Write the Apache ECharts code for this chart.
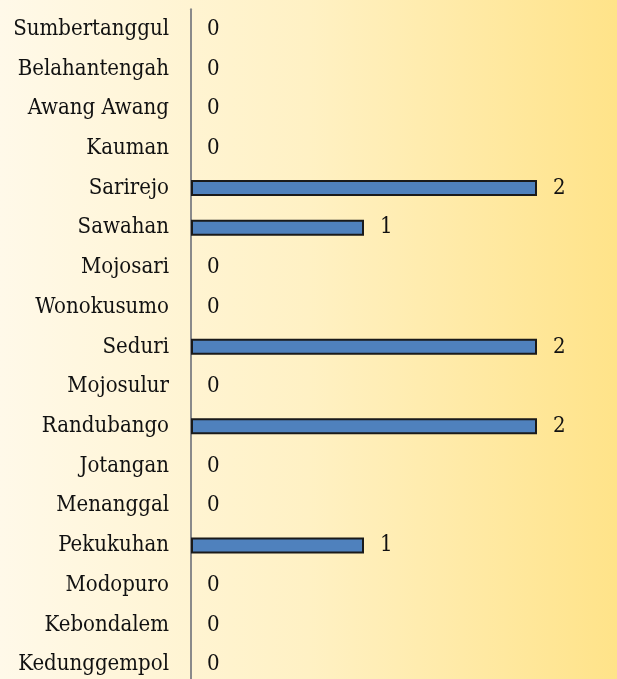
<!DOCTYPE html>
<html>
<head>
<meta charset="utf-8">
<script src="https://cdn.jsdelivr.net/npm/echarts@6/dist/echarts.min.js"></script>
<style>
  html, body { margin: 0; padding: 0; }
  #chart { width: 617px; height: 679px; }
</style>
</head>
<body>
<div id="chart"></div>
<script>
// data, top to bottom
const categories = [
  'Sumbertanggul', 'Belahantengah', 'Awang Awang', 'Kauman', 'Sarirejo',
  'Sawahan', 'Mojosari', 'Wonokusumo', 'Seduri', 'Mojosulur',
  'Randubango', 'Jotangan', 'Menanggal', 'Pekukuhan', 'Modopuro',
  'Kebondalem', 'Kedunggempol'
];
const values = [0, 0, 0, 0, 2, 1, 0, 0, 2, 0, 2, 0, 0, 1, 0, 0, 0];

const font = "'DejaVu Serif Condensed', serif";
const chart = echarts.init(document.getElementById('chart'), null, { renderer: 'canvas' });

// zero bars get no outline, otherwise the border leaves a stub on the axis
const barData = values.map((v) => (v === 0 ? { value: v, itemStyle: { borderWidth: 0 } } : v));

chart.setOption({
  animation: false,
  backgroundColor: new echarts.graphic.LinearGradient(0, 0, 1, 0, [
    { offset: 0, color: '#fff9e9' },
    { offset: 0.5, color: '#fff1c4' },
    { offset: 1, color: '#ffe389' }
  ]),
  // plot runs a little past the bottom edge, so the last row is cut like in the original
  grid: { left: 191, top: 9.2, width: 346, height: 675.3, outerBoundsMode: 'none' },
  xAxis: {
    type: 'value',
    min: 0,
    max: 2,
    show: false
  },
  yAxis: {
    type: 'category',
    inverse: true,
    data: categories,
    axisLine: { show: true, lineStyle: { color: '#8a8a8a', width: 2 } },
    axisTick: { show: false },
    axisLabel: { color: '#111', fontFamily: font, fontSize: 22, margin: 22 }
  },
  series: [{
    type: 'bar',
    data: barData,
    barWidth: 16,
    itemStyle: { color: '#4f81bd', borderColor: '#1a1a1a', borderWidth: 2 },
    label: {
      show: true,
      position: 'right',
      distance: 16,
      color: '#111',
      fontFamily: font,
      fontSize: 22
    }
  }]
});
</script>
</body>
</html>
